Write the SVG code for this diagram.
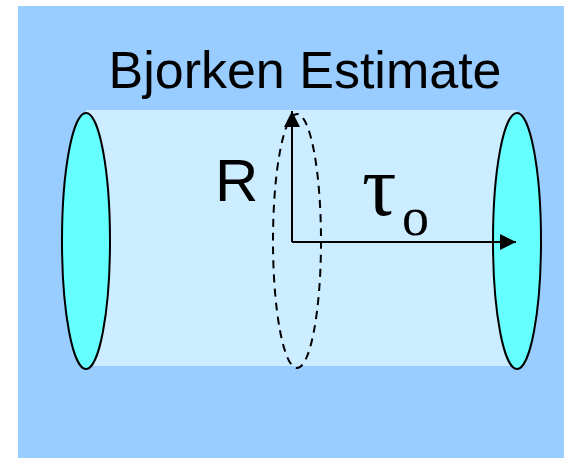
<svg xmlns="http://www.w3.org/2000/svg" width="564" height="458" viewBox="0 0 564 458">
<style>
.cap{fill:#66FFFF;stroke:#000;stroke-width:2}
.ln{stroke:#000;stroke-width:2;fill:none}
.sans{font-family:"Liberation Sans",Arial,sans-serif;fill:#000}
.serif{font-family:"Liberation Serif","Times New Roman",serif;fill:#000}
</style>
<defs>
<marker id="ah" markerWidth="16" markerHeight="16" refX="16" refY="8" orient="auto" markerUnits="userSpaceOnUse">
<path d="M0,0 L16,8 L0,16 Z" fill="#000"/>
</marker>
</defs>
<rect x="0" y="0" width="564" height="458" fill="#fff"/>
<rect x="18" y="6" width="546" height="452" fill="#99CCFF"/>
<g id="cylinder">
<rect x="86" y="110" width="431" height="256" fill="#CCECFF"/>
</g>
<g id="left-cap"><ellipse class="cap" cx="86" cy="241" rx="24" ry="128"/></g>
<g id="right-cap"><ellipse class="cap" cx="517" cy="241" rx="24" ry="128"/></g>
<g id="ring"><ellipse cx="297" cy="241" rx="24" ry="127" fill="none" stroke="#000" stroke-width="2" stroke-dasharray="8,6"/></g>
<g id="connectors">
<line class="ln" x1="292" y1="242" x2="292" y2="111" marker-end="url(#ah)"/>
<line class="ln" x1="292" y1="242" x2="516" y2="242" marker-end="url(#ah)"/>
</g>
<g id="labels">
<text class="sans" x="305" y="88" font-size="52" text-anchor="middle">Bjorken Estimate</text>
<text class="sans" x="215" y="201" font-size="60">R</text>
<text class="serif" x="362" y="215" font-size="86">τ</text>
<text class="serif" x="402" y="235" font-size="54">o</text>
</g>
</svg>
